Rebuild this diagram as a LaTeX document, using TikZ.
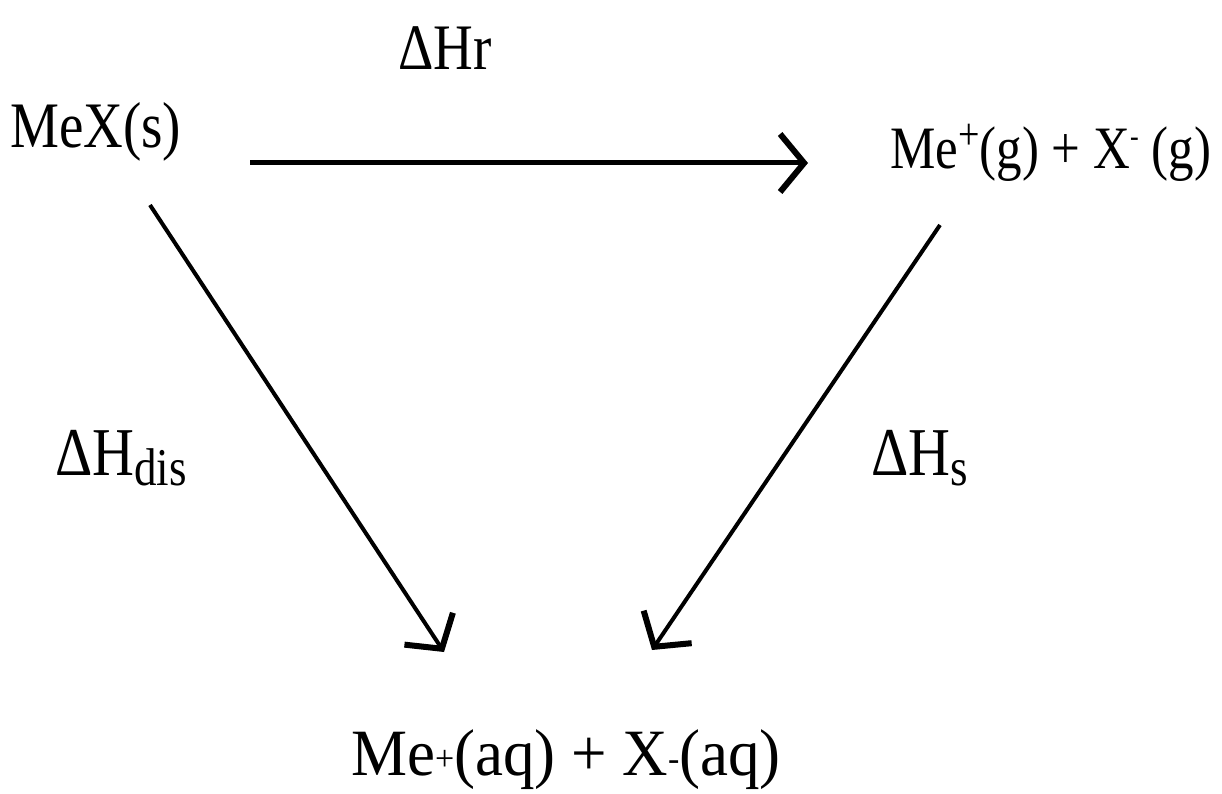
\documentclass[tikz,border=0pt]{standalone}
\usepackage{fontspec}
\usepackage{graphicx}
\setmainfont{Liberation Serif}
\usetikzlibrary{arrows.meta}
\newcommand{\tall}[1]{\scalebox{1}[1.18]{#1}}
\tikzset{
  lbl/.style={inner sep=0pt, font=\fontsize{55}{62}\selectfont},
  rxn/.style={draw=black, line width=4pt, -{Straight Barb[length=24pt,width=58pt,line width=6pt]}},
  rxnthick/.style={rxn, line width=5pt}
}
\begin{document}
\begin{tikzpicture}[x=1pt,y=-1pt]
\useasboundingbox (0,0) rectangle (1222,794);
\node[lbl] (dhr) at (445,48) {\tall{ΔHr}};
\node[lbl, anchor=west] (mex) at (10,132) {\tall{MeX(s)}};
\node[lbl, anchor=west, font=\fontsize{51}{56}\selectfont] (gas) at (890,153) {\tall{Me\raisebox{16pt}{\fontsize{38}{38}\selectfont +}(g) + X\raisebox{19pt}{\fontsize{26}{26}\selectfont -} (g)}};
\node[lbl, font=\fontsize{58}{62}\selectfont] (dhdis) at (121,458) {\tall{ΔH\raisebox{-9pt}{\fontsize{45}{45}\selectfont dis}}};
\node[lbl, font=\fontsize{58}{62}\selectfont] (dhs) at (920,458) {\tall{ΔH\raisebox{-9pt}{\fontsize{45}{45}\selectfont s}}};
\node[lbl, font=\fontsize{63}{66}\selectfont] (aq) at (566,760) {\scalebox{1}[1.05]{Me\raisebox{5pt}{\fontsize{34}{34}\selectfont +}(aq) + X\raisebox{5pt}{\fontsize{34}{34}\selectfont -}(aq)}};
\coordinate (h1) at (250,163);
\coordinate (h2) at (808,163);
\coordinate (l1) at (150,205);
\coordinate (l2) at (444,652);
\coordinate (r1) at (940,225);
\coordinate (r2) at (652,650);
\draw[rxnthick] (h1) -- (h2);
\draw[rxn] (l1) -- (l2);
\draw[rxn] (r1) -- (r2);
\end{tikzpicture}
\end{document}
